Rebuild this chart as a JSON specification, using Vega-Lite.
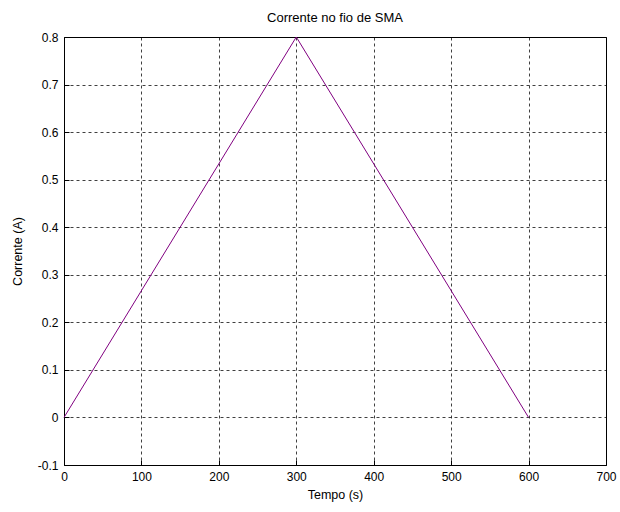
{
  "$schema": "https://vega.github.io/schema/vega-lite/v6.json",
  "width": 542,
  "height": 428,
  "autosize": {"type": "none"},
  "padding": {"left": 64, "top": 37, "right": 14, "bottom": 47},
  "background": "white",
  "title": {"text": "Corrente no fio de SMA", "font": "Liberation Sans", "fontSize": 13, "fontWeight": "normal", "color": "black", "offset": 6, "anchor": "middle"},
  "config": {
    "view": {"stroke": "black", "strokeWidth": 1},
    "axis": {
      "labelFont": "Liberation Sans", "labelFontSize": 12, "labelColor": "black",
      "titleFont": "Liberation Sans", "titleFontSize": 12.5, "titleFontWeight": "normal", "titleColor": "black",
      "domain": false,
      "grid": true, "gridColor": "black", "gridDash": [3, 3], "gridWidth": 1, "gridOpacity": 0.75,
      "ticks": true, "tickSize": -5, "tickColor": "black"
    }
  },
  "data": {"values": [
    {"t": 0, "i": 0},
    {"t": 300, "i": 0.8},
    {"t": 600, "i": 0}
  ]},
  "mark": {"type": "line", "color": "#800080", "strokeWidth": 1},
  "encoding": {
    "x": {"field": "t", "type": "quantitative", "scale": {"domain": [0, 700], "nice": false},
      "axis": {"title": "Tempo (s)", "values": [0, 100, 200, 300, 400, 500, 600, 700], "labelExpr": "toString(datum.value)", "labelPadding": 11, "titlePadding": 6, "labelFlush": false}},
    "y": {"field": "i", "type": "quantitative", "scale": {"domain": [-0.1, 0.8], "nice": false, "zero": false},
      "axis": {"title": "Corrente (A)", "values": [-0.1, 0, 0.1, 0.2, 0.3, 0.4, 0.5, 0.6, 0.7, 0.8], "labelExpr": "toString(datum.value)", "labelPadding": 11, "titlePadding": 13, "labelFlush": false}}
  }
}
